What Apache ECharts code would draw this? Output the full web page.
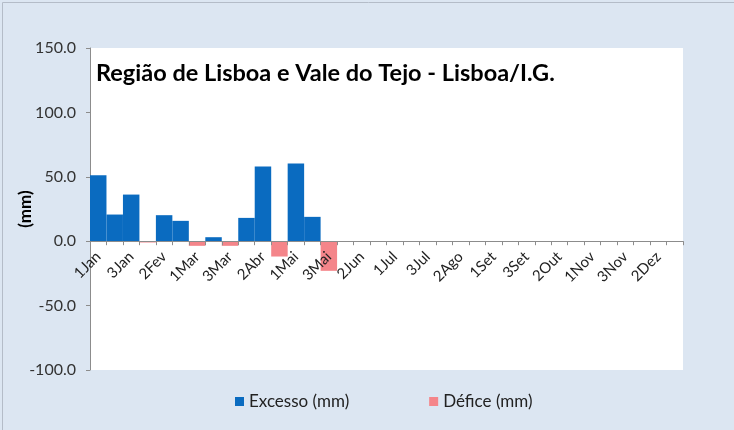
<!DOCTYPE html>
<html>
<head>
<meta charset="utf-8">
<script src="https://cdn.jsdelivr.net/npm/echarts@6/dist/echarts.min.js"></script>
<style>html,body{margin:0;padding:0;background:#fff;}#c{width:734px;height:430px;}</style>
</head>
<body>
<div id="c"></div>
<script>
var categories = ['1Jan','2Jan','3Jan','1Fev','2Fev','3Fev','1Mar','2Mar','3Mar','1Abr','2Abr','3Abr','1Mai','2Mai','3Mai','1Jun','2Jun','3Jun','1Jul','2Jul','3Jul','1Ago','2Ago','3Ago','1Set','2Set','3Set','1Out','2Out','3Out','1Nov','2Nov','3Nov','1Dez','2Dez','3Dez'];
var excesso = [51.2, 20.7, 36.2, 0, 20.2, 15.8, 0, 3.1, 0, 18.1, 58.0, 0, 60.3, 18.9, 0, null, null, null, null, null, null, null, null, null, null, null, null, null, null, null, null, null, null, null, null, null];
var defice = [0, 0, 0, -1.0, 0, 0, -3.6, 0, -3.6, 0, 0, -11.9, 0, 0, -23.0, null, null, null, null, null, null, null, null, null, null, null, null, null, null, null, null, null, null, null, null, null];
var yTicks = [-100, -50, 0, 50, 100, 150];
var titleText = 'Região de Lisboa e Vale do Tejo - Lisboa/I.G.';

var gridTop = 48, gridBottom = 60, H = 430;
var plotH = H - gridTop - gridBottom;
var yMin = yTicks[0], yMax = yTicks[yTicks.length - 1];
var zeroOffset = -plotH * (0 - yMin) / (yMax - yMin);

var chart = echarts.init(document.getElementById('c'), null, {renderer: 'canvas'});
chart.setOption({
  animation: false,
  backgroundColor: '#DCE6F2',
  graphic: [{
    type: 'rect', left: 0, top: 0,
    shape: {x: 0.5, y: 0.5, width: 732, height: 428},
    style: {fill: 'none', stroke: '#B4BCC8', lineWidth: 1},
    silent: true, z: 0
  }],
  title: {
    text: titleText, left: 91, top: 56,
    textStyle: {fontFamily: 'Lato', fontWeight: 'bold', fontSize: 23.5, color: '#000'}
  },
  legend: {
    bottom: 15, left: 230, itemGap: 80, itemWidth: 9, itemHeight: 9,
    icon: 'rect',
    textStyle: {fontFamily: 'Lato', fontSize: 17, color: '#222'},
    data: ['Excesso (mm)', 'Défice (mm)']
  },
  grid: {left: 90, right: 51, top: gridTop, bottom: gridBottom, show: true, backgroundColor: '#fff', borderWidth: 0, containLabel: false, outerBoundsMode: 'none'},
  xAxis: {
    type: 'category', data: categories, boundaryGap: true,
    offset: zeroOffset, z: 5,
    axisLine: {onZero: false, lineStyle: {color: '#8c8c8c'}},
    axisTick: {show: true, interval: 0, length: 4, lineStyle: {color: '#8c8c8c'}},
    axisLabel: {interval: 1, rotate: 45, fontFamily: 'Lato', fontSize: 15, color: '#222', margin: 13}
  },
  yAxis: {
    type: 'value', min: yMin, max: yMax, interval: 50,
    name: '(mm)', nameLocation: 'middle', nameGap: 56, nameRotate: 90, nameMoveOverlap: false,
    nameTextStyle: {fontFamily: 'Lato', fontWeight: 'bold', fontSize: 17, color: '#000'},
    axisLine: {show: true, lineStyle: {color: '#8c8c8c'}},
    axisTick: {show: true, length: 4, lineStyle: {color: '#8c8c8c'}},
    splitLine: {show: false},
    axisLabel: {formatter: function (v) { return v.toFixed(1); }, fontFamily: 'Lato', fontSize: 16, color: '#333', margin: 14}
  },
  series: [
    {name: 'Excesso (mm)', type: 'bar', stack: 'a', data: excesso, barCategoryGap: '0%', itemStyle: {color: '#0A6BC0'}},
    {name: 'Défice (mm)', type: 'bar', stack: 'a', data: defice, barCategoryGap: '0%', itemStyle: {color: '#F4858A'}}
  ]
});
</script>
</body>
</html>
